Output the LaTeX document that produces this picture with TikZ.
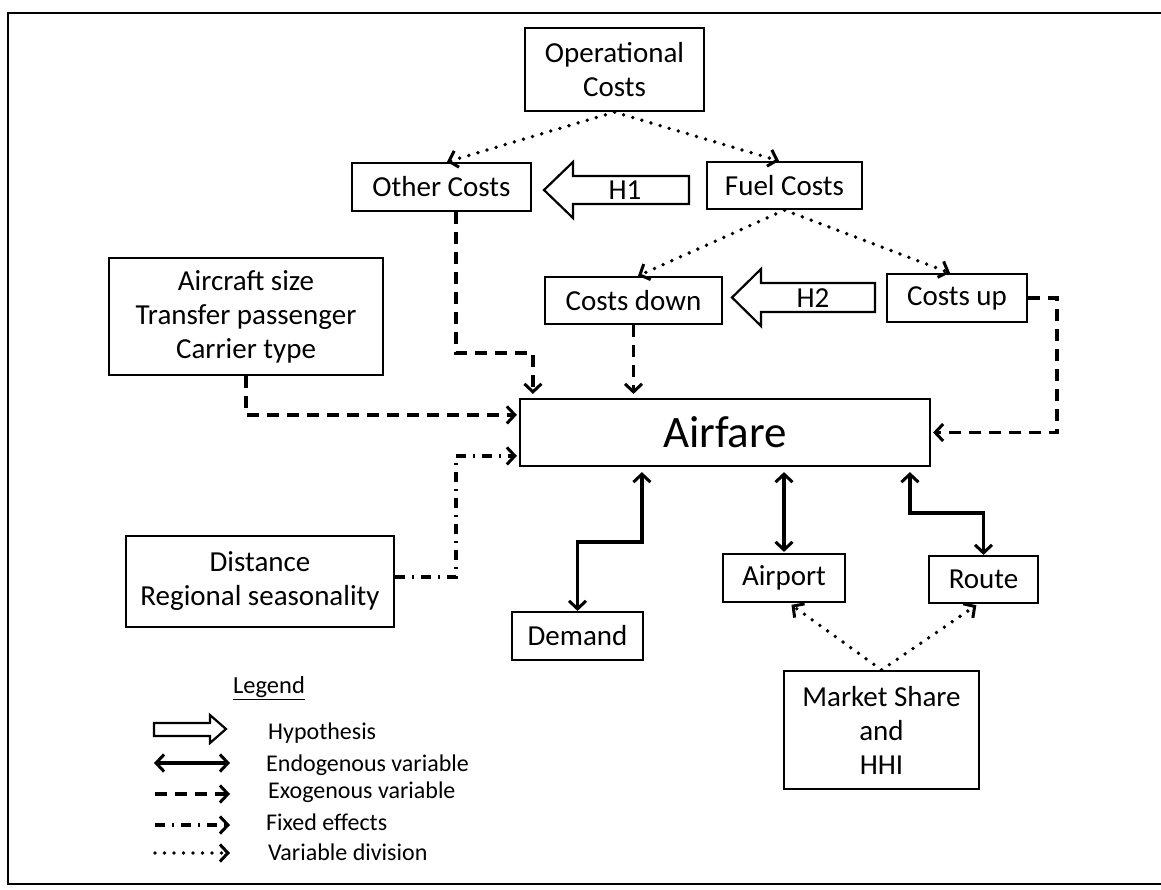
\documentclass[tikz,border=0pt]{standalone}
\usepackage{fontspec}
\setmainfont{Carlito}
\usetikzlibrary{arrows.meta,calc}
\begin{document}
\begin{tikzpicture}[x=1pt,y=-1pt,
  >={Straight Barb[length=8pt,width=17pt,line width=3pt]},
  box/.style={draw,line width=2.2pt,inner sep=0pt,align=center,font=\fontsize{29}{34}\selectfont},
  endo/.style={<->,line width=3.3pt},
  exo/.style={->,line width=3.5pt,dash pattern=on 12pt off 8pt},
  fixedfx/.style={->,line width=3.5pt,dash pattern=on 10pt off 7pt on 2pt off 7pt},
  vdiv/.style={->,line width=3.8pt,line cap=round,dash pattern=on 0pt off 9.5pt},
  hyp/.style={draw,line width=2.2pt,fill=white},
  leg/.style={anchor=west,inner sep=0pt,font=\fontsize{24}{28}\selectfont},
  hlabel/.style={inner sep=0pt,font=\fontsize{29}{34}\selectfont}
]
\useasboundingbox (0,0) rectangle (1161,889);
% frame
\draw[line width=2.5pt] (1161,13) -- (8,13) -- (8,884) -- (1161,884);

% boxes
\node[box,minimum width=179pt,minimum height=83pt] (op) at (614.5,69.5) {Operational\\Costs};
\node[box,minimum width=179pt,minimum height=48pt] (other) at (441.5,187) {Other Costs};
\node[box,minimum width=155pt,minimum height=47pt] (fuel) at (784.5,185.5) {Fuel Costs};
\node[box,minimum width=177pt,minimum height=47pt] (down) at (633.5,300.5) {Costs down};
\node[box,minimum width=140pt,minimum height=48pt] (up) at (957,298) {Costs up};
\node[box,minimum width=274pt,minimum height=117pt] (aircraft) at (246,316.5) {Aircraft size\\Transfer passenger\\Carrier type};
\node[box,minimum width=410pt,minimum height=67pt,font=\fontsize{45}{52}\selectfont] (airfare) at (725,432.5) {Airfare};
\node[box,minimum width=268pt,minimum height=91pt] (distance) at (260,581.5) {Distance\\Regional seasonality};
\node[box,minimum width=131pt,minimum height=48pt] (demand) at (577.5,636) {Demand};
\node[box,minimum width=122pt,minimum height=48pt] (airport) at (784,578) {Airport};
\node[box,minimum width=109pt,minimum height=47pt] (route) at (983.5,579.5) {Route};
\node[box,minimum width=195pt,minimum height=118pt] (market) at (881.5,730) {Market Share\\and\\HHI};

% hypothesis arrows
\draw[hyp] (544,190) -- (573,162) -- (573,176) -- (689,176) -- (689,204) -- (573,204) -- (573,218) -- cycle;
\node[hlabel] (h1) at (625,190) {H1};
\draw[hyp] (732,297.5) -- (761,269) -- (761,283) -- (875,283) -- (875,312) -- (761,312) -- (761,326) -- cycle;
\node[hlabel] (h2) at (813,298) {H2};

% variable division (dotted)
\draw[vdiv] (op.south) -- ($(other.north)+(5.5,0)$);
\draw[vdiv] (op.south) -- ($(fuel.north)+(-5.5,0)$);
\draw[vdiv] (fuel.south) -- ($(down.north)+(4.5,0)$);
\draw[vdiv] (fuel.south) -- ($(up.north)+(-7,0)$);
\draw[vdiv,shorten >=3pt] (market.north) -- ($(airport.south)+(5,0)$);
\draw[vdiv,shorten >=2pt] (market.north) -- ($(route.south)+(-5.5,0)$);

% exogenous (dashed)
\draw[exo,shorten >=4pt] ($(other.south)+(14.5,0)$) |- ($(airfare.north west)+(14,-45)$) -- ($(airfare.north west)+(14,0)$);
\draw[exo,shorten >=4pt] (down.south) -- (down.south |- airfare.north);
\draw[exo,shorten >=2pt] (aircraft.south) |- ($(airfare.north west)+(0,17)$);
\draw[exo,shorten >=2pt] (up.east) -- ++(29,0) |- (airfare.east);

% fixed effects (dash-dot)
\draw[fixedfx,shorten >=2pt] ($(distance.east)+(0,-4.5)$) -| ($(airfare.north west)+(-63,58)$) -- ($(airfare.north west)+(0,58)$);

% endogenous (double solid)
\draw[endo,shorten <=5pt] ($(airfare.south west)+(123,0)$) -- ++(0,75) -| (demand.north);
\draw[endo,shorten <=5pt,shorten >=1pt] (airport.north |- airfare.south) -- (airport.north);
\draw[endo,shorten <=5pt] ($(airfare.south west)+(391,0)$) -- ++(0,46) -| (route.north);

% legend
\node[inner sep=0pt,font=\fontsize{24.5}{28}\selectfont] (legend) at (269,688) {\underline{Legend}};
\draw[hyp] (154,723) -- (210,723) -- (210,715) -- (226,729) -- (210,743) -- (210,736) -- (154,736) -- cycle;
\node[leg] (lhyp) at (268,733) {Hypothesis};
\coordinate (le1) at (154,763); \coordinate (le2) at (230,763);
\draw[endo] (le1) -- (le2);
\node[leg] (lendo) at (266,765) {Endogenous variable};
\coordinate (lx1) at (155,794); \coordinate (lx2) at (230,794);
\draw[exo] (lx1) -- (lx2);
\node[leg] (lexo) at (268,792) {Exogenous variable};
\coordinate (lf1) at (155,825); \coordinate (lf2) at (230,825);
\draw[fixedfx] (lf1) -- (lf2);
\node[leg] (lfix) at (266,822) {Fixed effects};
\coordinate (lv1) at (155,853); \coordinate (lv2) at (230,853);
\draw[vdiv] (lv1) -- (lv2);
\node[leg] (lvar) at (268,852) {Variable division};
\end{tikzpicture}
\end{document}
